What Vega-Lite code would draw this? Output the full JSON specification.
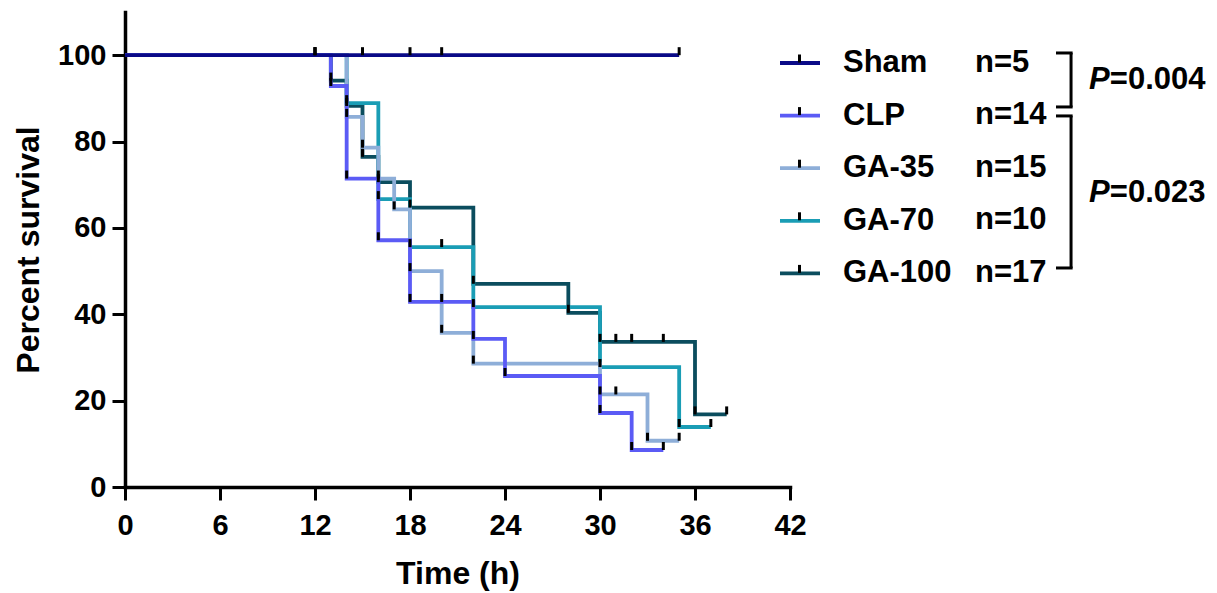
{
  "$schema": "https://vega.github.io/schema/vega-lite/v6.json",
  "width": 665,
  "height": 475,
  "autosize": {"type": "none"},
  "padding": {"left": 125, "top": 12, "right": 427, "bottom": 106},
  "background": "white",
  "config": {
    "view": {"stroke": null},
    "font": "Liberation Sans",
    "axis": {
      "domainColor": "black", "domainWidth": 3.5, "domainCap": "square",
      "tickColor": "black", "tickWidth": 3, "tickSize": 13,
      "labelFont": "Liberation Sans", "labelFontSize": 29, "labelFontWeight": "bold", "labelColor": "black",
      "titleFont": "Liberation Sans", "titleFontSize": 32, "titleFontWeight": "bold", "titleColor": "black",
      "grid": false
    },
    "legend": {
      "labelFont": "Liberation Sans", "labelFontSize": 31, "labelFontWeight": "bold", "labelColor": "black",
      "padding": 0
    }
  },
  "datasets": {
    "km": [
      {"group": "GA-100", "n": 17, "time": 0, "survival": 100},
      {"group": "GA-100", "n": 17, "time": 13, "survival": 94.12},
      {"group": "GA-100", "n": 17, "time": 14, "survival": 88.24},
      {"group": "GA-100", "n": 17, "time": 15, "survival": 76.47},
      {"group": "GA-100", "n": 17, "time": 16, "survival": 70.59},
      {"group": "GA-100", "n": 17, "time": 18, "survival": 64.71},
      {"group": "GA-100", "n": 17, "time": 22, "survival": 47.06},
      {"group": "GA-100", "n": 17, "time": 28, "survival": 40.34},
      {"group": "GA-100", "n": 17, "time": 30, "survival": 33.61},
      {"group": "GA-100", "n": 17, "time": 31, "survival": 33.61},
      {"group": "GA-100", "n": 17, "time": 32, "survival": 33.61},
      {"group": "GA-100", "n": 17, "time": 34, "survival": 33.61},
      {"group": "GA-100", "n": 17, "time": 36, "survival": 16.81},
      {"group": "GA-100", "n": 17, "time": 38, "survival": 16.81},
      {"group": "GA-70", "n": 10, "time": 0, "survival": 100},
      {"group": "GA-70", "n": 10, "time": 12, "survival": 100},
      {"group": "GA-70", "n": 10, "time": 14, "survival": 88.89},
      {"group": "GA-70", "n": 10, "time": 16, "survival": 66.67},
      {"group": "GA-70", "n": 10, "time": 18, "survival": 55.56},
      {"group": "GA-70", "n": 10, "time": 20, "survival": 55.56},
      {"group": "GA-70", "n": 10, "time": 22, "survival": 41.67},
      {"group": "GA-70", "n": 10, "time": 30, "survival": 27.78},
      {"group": "GA-70", "n": 10, "time": 35, "survival": 13.89},
      {"group": "GA-70", "n": 10, "time": 37, "survival": 13.89},
      {"group": "GA-35", "n": 15, "time": 0, "survival": 100},
      {"group": "GA-35", "n": 15, "time": 12, "survival": 100},
      {"group": "GA-35", "n": 15, "time": 14, "survival": 85.71},
      {"group": "GA-35", "n": 15, "time": 15, "survival": 78.57},
      {"group": "GA-35", "n": 15, "time": 16, "survival": 71.43},
      {"group": "GA-35", "n": 15, "time": 17, "survival": 64.29},
      {"group": "GA-35", "n": 15, "time": 18, "survival": 50},
      {"group": "GA-35", "n": 15, "time": 20, "survival": 35.71},
      {"group": "GA-35", "n": 15, "time": 22, "survival": 28.57},
      {"group": "GA-35", "n": 15, "time": 30, "survival": 21.43},
      {"group": "GA-35", "n": 15, "time": 31, "survival": 21.43},
      {"group": "GA-35", "n": 15, "time": 33, "survival": 10.71},
      {"group": "GA-35", "n": 15, "time": 35, "survival": 10.71},
      {"group": "CLP", "n": 14, "time": 0, "survival": 100},
      {"group": "CLP", "n": 14, "time": 13, "survival": 92.86},
      {"group": "CLP", "n": 14, "time": 14, "survival": 71.43},
      {"group": "CLP", "n": 14, "time": 16, "survival": 57.14},
      {"group": "CLP", "n": 14, "time": 18, "survival": 42.86},
      {"group": "CLP", "n": 14, "time": 20, "survival": 42.86},
      {"group": "CLP", "n": 14, "time": 22, "survival": 34.29},
      {"group": "CLP", "n": 14, "time": 24, "survival": 25.71},
      {"group": "CLP", "n": 14, "time": 30, "survival": 17.14},
      {"group": "CLP", "n": 14, "time": 32, "survival": 8.57},
      {"group": "CLP", "n": 14, "time": 34, "survival": 8.57},
      {"group": "Sham", "n": 5, "time": 0, "survival": 100},
      {"group": "Sham", "n": 5, "time": 12, "survival": 100},
      {"group": "Sham", "n": 5, "time": 15, "survival": 100},
      {"group": "Sham", "n": 5, "time": 18, "survival": 100},
      {"group": "Sham", "n": 5, "time": 20, "survival": 100},
      {"group": "Sham", "n": 5, "time": 35, "survival": 100}
    ]
  },
  "layer": [
    {
      "data": {"name": "km"},
      "mark": {"type": "line", "interpolate": "step-after", "strokeWidth": 3.8},
      "encoding": {
        "x": {"field": "time", "type": "quantitative",
              "scale": {"domain": [0, 42], "nice": false, "zero": false},
              "axis": {"values": [0, 6, 12, 18, 24, 30, 36, 42], "title": "Time (h)", "labelPadding": 11, "titlePadding": 18, "labelFlush": false, "labelOverlap": false}},
        "y": {"field": "survival", "type": "quantitative",
              "scale": {"domain": [0, 110], "nice": false},
              "axis": {"values": [0, 20, 40, 60, 80, 100], "title": "Percent survival", "labelPadding": 6, "titlePadding": 12}},
        "color": {"field": "group", "type": "nominal",
                  "scale": {"domain": ["Sham", "CLP", "GA-35", "GA-70", "GA-100"],
                            "range": ["#0a0a87", "#5b5bf5", "#8eaed8", "#1a9db5", "#0b4d5e"]},
                  "legend": {"orient": "none", "legendX": 653, "legendY": 29, "title": null,
                             "symbolType": "stroke", "symbolSize": 1600, "symbolStrokeWidth": 3.8,
                             "labelOffset": 21, "rowPadding": 15.6}}
      }
    },
    {
      "data": {"name": "km"},
      "transform": [{"filter": "datum.time > 0"}],
      "mark": {"type": "point", "filled": false, "color": "black", "strokeWidth": 3, "size": 1600, "opacity": 1},
      "encoding": {
        "x": {"field": "time", "type": "quantitative"},
        "y": {"field": "survival", "type": "quantitative"},
        "shape": {"field": "n", "type": "nominal",
                  "scale": {"domain": [5, 14, 15, 10, 17], "range": ["M0,0V-0.4"]},
                  "legend": {"orient": "none", "legendX": 653, "legendY": 29, "title": null,
                             "symbolSize": 1600, "symbolStrokeWidth": 3, "symbolStrokeColor": "black",
                             "labelOffset": 154, "rowPadding": 15.6,
                             "labelExpr": "'n=' + datum.label"}}
      }
    },
    {
      "data": {"values": [{}]},
      "mark": {"type": "rule", "color": "black", "strokeWidth": 3},
      "encoding": {"x": {"datum": 59.75}, "y": {"datum": 100.51}, "y2": {"datum": 88.01}}
    },
    {
      "data": {"values": [{}]},
      "mark": {"type": "rule", "color": "black", "strokeWidth": 3},
      "encoding": {"x": {"datum": 58.8}, "x2": {"datum": 59.85}, "y": {"datum": 100.51}}
    },
    {
      "data": {"values": [{}]},
      "mark": {"type": "rule", "color": "black", "strokeWidth": 3},
      "encoding": {"x": {"datum": 58.8}, "x2": {"datum": 59.85}, "y": {"datum": 88.01}}
    },
    {
      "data": {"values": [{}]},
      "mark": {"type": "rule", "color": "black", "strokeWidth": 3},
      "encoding": {"x": {"datum": 59.75}, "y": {"datum": 85.93}, "y2": {"datum": 50.72}}
    },
    {
      "data": {"values": [{}]},
      "mark": {"type": "rule", "color": "black", "strokeWidth": 3},
      "encoding": {"x": {"datum": 58.8}, "x2": {"datum": 59.85}, "y": {"datum": 85.93}}
    },
    {
      "data": {"values": [{}]},
      "mark": {"type": "rule", "color": "black", "strokeWidth": 3},
      "encoding": {"x": {"datum": 58.8}, "x2": {"datum": 59.85}, "y": {"datum": 50.72}}
    },
    {
      "data": {"values": [{}]},
      "mark": {"type": "text", "text": "P", "font": "Liberation Sans", "fontSize": 31, "fontWeight": "bold", "fontStyle": "italic", "align": "left", "baseline": "middle", "color": "black"},
      "encoding": {"x": {"datum": 60.89}, "y": {"datum": 94.26}}
    },
    {
      "data": {"values": [{}]},
      "mark": {"type": "text", "text": "=0.004", "font": "Liberation Sans", "fontSize": 31, "fontWeight": "bold", "align": "left", "baseline": "middle", "color": "black"},
      "encoding": {"x": {"datum": 62.2}, "y": {"datum": 94.26}}
    },
    {
      "data": {"values": [{}]},
      "mark": {"type": "text", "text": "P", "font": "Liberation Sans", "fontSize": 31, "fontWeight": "bold", "fontStyle": "italic", "align": "left", "baseline": "middle", "color": "black"},
      "encoding": {"x": {"datum": 60.89}, "y": {"datum": 68.09}}
    },
    {
      "data": {"values": [{}]},
      "mark": {"type": "text", "text": "=0.023", "font": "Liberation Sans", "fontSize": 31, "fontWeight": "bold", "align": "left", "baseline": "middle", "color": "black"},
      "encoding": {"x": {"datum": 62.2}, "y": {"datum": 68.09}}
    }
  ]
}
